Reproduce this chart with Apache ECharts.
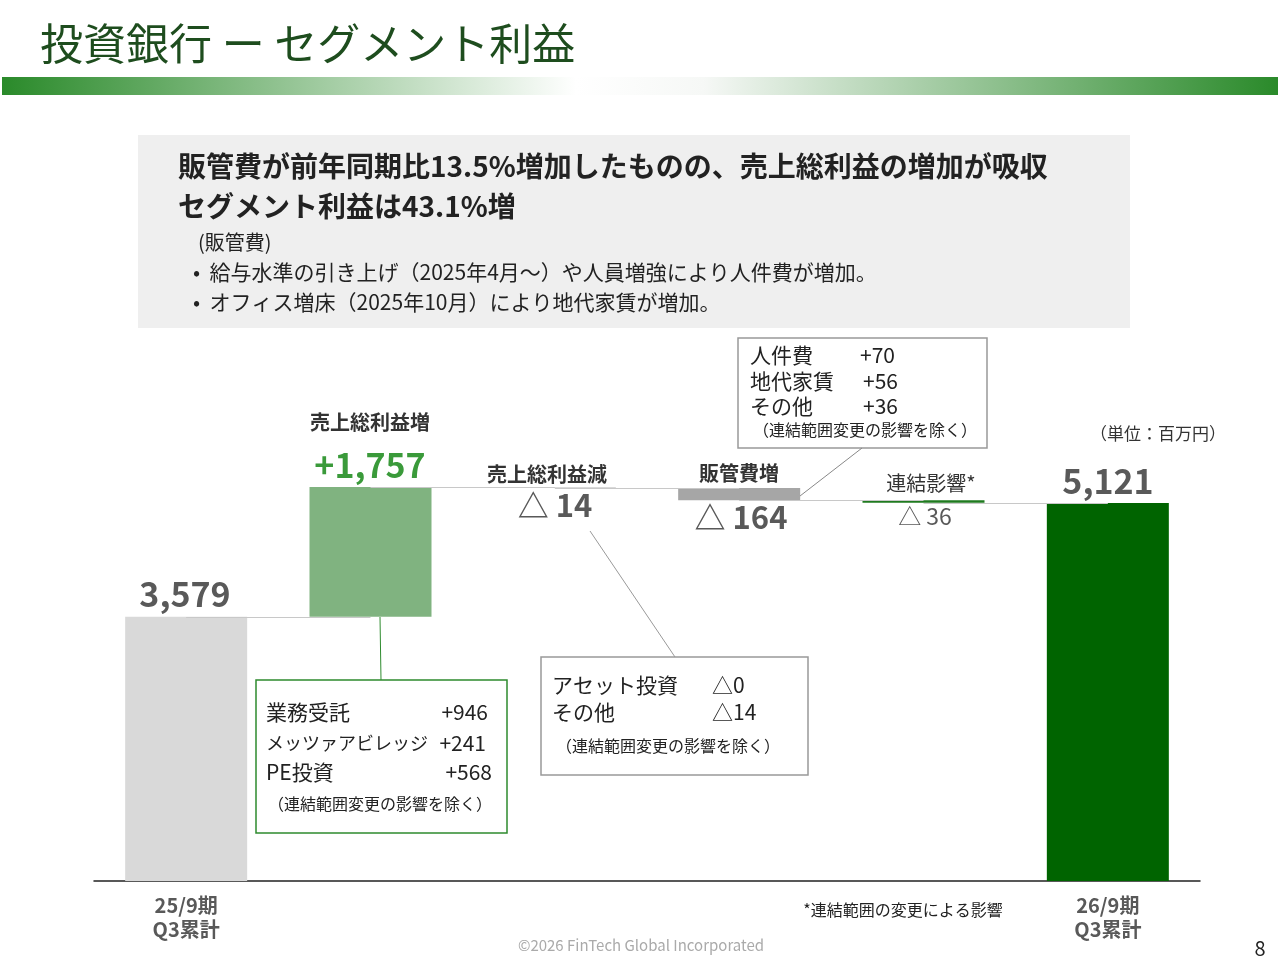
<!DOCTYPE html>
<html><head><meta charset="utf-8">
<script src="https://cdn.jsdelivr.net/npm/echarts@6/dist/echarts.min.js"></script>
<style>html,body{margin:0;padding:0;background:#fff}#c{width:1280px;height:960px}</style>
</head><body><div id="c"></div>
<script>
const categories = ['25/9期\nQ3累計','売上総利益増','売上総利益減','販管費増','連結影響*','26/9期\nQ3累計'];
const baseValues = [0, 3579, 5322, 5158, 5122, 0];
const barValues = [3579, 1757, 14, 164, 36, 5121];
const barColors = ['#d9d9d9','#80b380','#d9d9d9','#a6a6a6','#1f7a1f','#006400'];
const F = '"Noto Sans CJK JP", "Noto Sans", sans-serif';
const chart = echarts.init(document.getElementById('c'));
const conn = [];
for (let i = 0; i < 5; i++) {
  const lvl = (i === 0) ? barValues[0] : baseValues[i] + (i === 1 ? barValues[i] : 0);
  conn.push([{coord:[i, lvl]},{coord:[i+1, lvl]}]);
}
function t(x,y,text,size,color,weight,align){return {type:'text',x:x,y:y,style:{text:text,font:(weight||'normal')+' '+size+'px '+F,fill:color,textAlign:align||'left',textVerticalAlign:'middle'}};}
function box(x,y,w,h,stroke){return {type:'rect',shape:{x:x,y:y,width:w,height:h},style:{fill:'#fff',stroke:stroke,lineWidth:1.5}};}
function ln(x1,y1,x2,y2,c){return {type:'line',shape:{x1:x1,y1:y1,x2:x2,y2:y2},style:{stroke:c,lineWidth:1}};}
chart.setOption({
  animation:false,
  grid:{left:94,right:80,top:438,bottom:79},
  xAxis:{type:'category',data:categories,axisTick:{show:false},
    axisLine:{lineStyle:{color:'#222',width:1.5}},
    axisLabel:{interval:0,color:'#595959',fontFamily:F,fontWeight:'bold',fontSize:20,lineHeight:24,margin:12,
      formatter:(v,i)=> (i===0||i===5)?v:''}},
  yAxis:{type:'value',min:0,max:6000,show:false},
  series:[
    {type:'bar',stack:'w',data:baseValues,barWidth:122,itemStyle:{color:'transparent'},
     markLine:{symbol:'none',silent:true,label:{show:false},lineStyle:{color:'#c8c8c8',type:'solid',width:1},data:conn}},
    {type:'bar',stack:'w',data:barValues.map((v,i)=>({value:v,itemStyle:{color:barColors[i]}})),barWidth:122}
  ],
  graphic:[
    t(40,44,'投資銀行 ー セグメント利益',43,'#1e4d1e'),
    {type:'rect',shape:{x:2,y:77,width:1276,height:18},style:{fill:new echarts.graphic.LinearGradient(0,0,1,0,[{offset:0,color:'#2a8a2a'},{offset:0.45,color:'#ffffff'},{offset:0.55,color:'#f6f8f6'},{offset:1,color:'#2a8a2a'}])}},
    {type:'rect',shape:{x:138,y:135,width:992,height:193},style:{fill:'#efefef'}},
    t(178,166,'販管費が前年同期比13.5%増加したものの、売上総利益の増加が吸収',28,'#222','bold'),
    t(178,206,'セグメント利益は43.1%増',28,'#222','bold'),
    t(198,242,'(販管費)',20,'#222'),
    t(193,272,'•  給与水準の引き上げ（2025年4月～）や人員増強により人件費が増加。',21,'#222'),
    t(193,302,'•  オフィス増床（2025年10月）により地代家賃が増加。',21,'#222'),
    t(185,594,'3,579',34,'#595959','bold','center'),
    t(370,422,'売上総利益増',20,'#333','bold','center'),
    t(370,465,'+1,757',34,'#3a9a3a','bold','center'),
    t(547,474,'売上総利益減',20,'#333','bold','center'),
    t(555,505,'△ 14',31,'#595959','bold','center'),
    t(739,473,'販管費増',20,'#333','bold','center'),
    t(741,517,'△ 164',31,'#595959','bold','center'),
    t(931,483,'連結影響*',20,'#333','normal','center'),
    t(925,516,'△ 36',23,'#595959','normal','center'),
    t(1108,481,'5,121',34,'#595959','bold','center'),
    t(1158,434,'（単位：百万円）',17,'#333','normal','center'),
    box(738,338,249,110,'#999'),
    t(750,355,'人件費',21,'#222'), t(860,355,'+70',21,'#222'),
    t(750,381,'地代家賃',21,'#222'), t(863,381,'+56',21,'#222'),
    t(750,406,'その他',21,'#222'), t(863,406,'+36',21,'#222'),
    t(753,430,'（連結範囲変更の影響を除く）',16,'#222'),
    ln(800,496,862,448,'#888'),
    box(256,680,251,153,'#2e8b2e'),
    t(266,712,'業務受託',21,'#222'), t(488,712,'+946',21,'#222','normal','right'),
    t(266,743,'メッツァアビレッジ',18,'#222'), t(486,743,'+241',21,'#222','normal','right'),
    t(266,772,'PE投資',21,'#222'), t(492,772,'+568',21,'#222','normal','right'),
    t(268,804,'（連結範囲変更の影響を除く）',16,'#222'),
    ln(380,617,381,680,'#2e8b2e'),
    box(541,657,267,118,'#999'),
    t(552,685,'アセット投資',21,'#222'), t(712,685,'△0',21,'#222'),
    t(552,712,'その他',21,'#222'), t(712,712,'△14',21,'#222'),
    t(556,746,'（連結範囲変更の影響を除く）',16,'#222'),
    ln(590,531,675,657,'#999'),
    t(903,910,'*連結範囲の変更による影響',16,'#222','normal','center'),
    t(641,945,'©2026 FinTech Global Incorporated',15,'#aaa','normal','center'),
    t(1260,948,'8',20,'#222','normal','center')
  ]
});
</script></body></html>
